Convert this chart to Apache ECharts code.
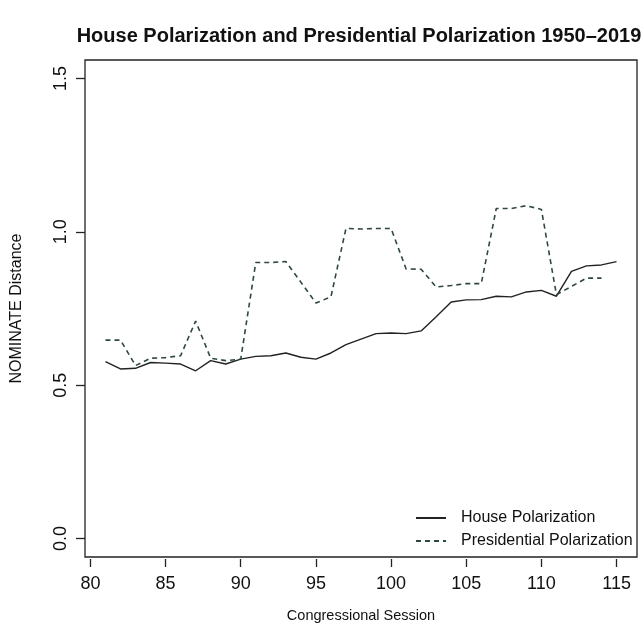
<!DOCTYPE html>
<html>
<head>
<meta charset="utf-8">
<script src="https://cdn.jsdelivr.net/npm/echarts@6/dist/echarts.min.js"></script>
<style>
html,body{margin:0;padding:0;background:#fff;}
#c{width:644px;height:633px;}
</style>
</head>
<body>
<div id="c"></div>
<script>
const titleText = "House Polarization and Presidential Polarization 1950\u20132019";
const xTitle = "Congressional Session";
const yTitle = "NOMINATE Distance";
const houseName = "House Polarization";
const presName = "Presidential Polarization";

const houseSessions = [81,82,83,84,85,86,87,88,89,90,91,92,93,94,95,96,97,98,99,100,101,102,103,104,105,106,107,108,109,110,111,112,113,114,115];
const houseValues = [0.577,0.553,0.555,0.574,0.572,0.569,0.547,0.580,0.569,0.585,0.594,0.596,0.605,0.591,0.585,0.605,0.632,0.650,0.668,0.670,0.668,0.677,0.723,0.771,0.778,0.779,0.790,0.788,0.804,0.809,0.790,0.871,0.889,0.892,0.903];

const presSessions = [81,82,83,84,85,86,87,88,89,90,91,92,93,94,95,96,97,98,99,100,101,102,103,104,105,106,107,108,109,110,111,112,113,114];
const presValues = [0.647,0.647,0.564,0.588,0.590,0.596,0.709,0.588,0.580,0.585,0.900,0.900,0.903,0.836,0.768,0.788,1.011,1.009,1.011,1.011,0.879,0.878,0.820,0.825,0.831,0.831,1.076,1.076,1.085,1.073,0.795,0.822,0.849,0.849];

const xTicks = [80,85,90,95,100,105,110,115];
const yTicks = [0.0,0.5,1.0,1.5];

const FONT = "'Liberation Sans', Arial, Helvetica, sans-serif";
const chart = echarts.init(document.getElementById('c'), null, {renderer:'canvas'});

const zip = (xs, ys) => xs.map((x,i)=>[x, ys[i]]);

chart.setOption({
  backgroundColor: '#fff',
  animation: false,
  title: {
    text: titleText,
    left: 359, top: 26, textAlign: 'center', padding: 0,
    textStyle: {fontFamily: FONT, fontSize: 20, fontWeight: 'bold', color: '#111'}
  },
  grid: {
    left: 85, right: 7, top: 60, bottom: 76,
    show: true, borderColor: '#222', borderWidth: 1.3, backgroundColor: '#fff'
  },
  legend: {
    orient: 'vertical', left: 415, top: 510, padding: 0,
    itemWidth: 30, itemHeight: 14, itemGap: 7,
    itemStyle: {opacity: 0, borderWidth: 0},
    textStyle: {fontFamily: FONT, fontSize: 16, color: '#111', padding: [0,0,0,10]},
    data: [houseName, presName]
  },
  xAxis: {
    type: 'value', min: 79.64, max: 116.36, offset: 2,
    axisLine: {show: false, onZero: false},
    splitLine: {show: false},
    axisTick: {show: true, length: 8, lineStyle: {color: '#222', width: 1.3}, customValues: xTicks},
    axisLabel: {customValues: xTicks, margin: 16, fontFamily: FONT, fontSize: 18, color: '#111',
      formatter: v => String(v)},
    name: xTitle, nameLocation: 'middle', nameGap: 49,
    nameTextStyle: {fontFamily: FONT, fontSize: 14.5, color: '#111'}
  },
  yAxis: {
    type: 'value', min: -0.06, max: 1.56,
    axisLine: {show: false, onZero: false},
    splitLine: {show: false},
    axisTick: {show: true, length: 9, lineStyle: {color: '#222', width: 1.3}, customValues: yTicks},
    axisLabel: {customValues: yTicks, margin: 15, rotate: 90, fontFamily: FONT, fontSize: 18, color: '#111',
      formatter: v => v.toFixed(1)},
    name: yTitle, nameLocation: 'middle', nameGap: 60, nameRotate: 90,
    nameTextStyle: {fontFamily: FONT, fontSize: 16, color: '#111'}
  },
  series: [
    {
      name: houseName, type: 'line', data: zip(houseSessions, houseValues),
      symbol: 'none', showSymbol: false,
      lineStyle: {color: '#222', width: 1.4, type: 'solid'},
      itemStyle: {color: '#222'}
    },
    {
      name: presName, type: 'line', data: zip(presSessions, presValues),
      symbol: 'none', showSymbol: false,
      lineStyle: {color: '#2f4744', width: 1.6, type: [5,4]},
      itemStyle: {color: '#2f4744'}
    }
  ]
});
</script>
</body>
</html>
